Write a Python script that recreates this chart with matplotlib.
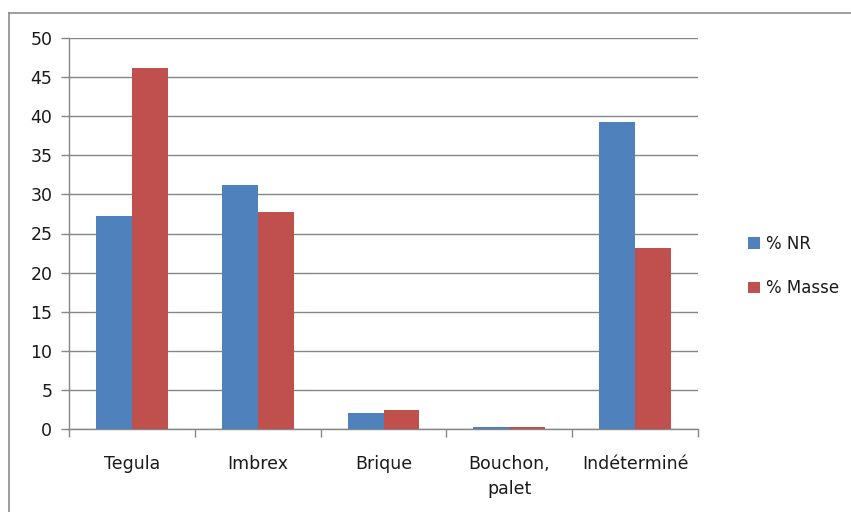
import numpy as np
import matplotlib.pyplot as plt
from matplotlib.lines import Line2D

categories = ["Tegula", "Imbrex", "Brique", "Bouchon,\npalet", "Indéterminé"]
pct_nr = [27.3, 31.2, 2.0, 0.3, 39.2]
pct_masse = [46.2, 27.8, 2.4, 0.3, 23.1]
series_names = ["% NR", "% Masse"]

blue = "#4F81BD"
red = "#C0504D"
grid_col = "#868686"

plt.rcParams['font.family'] = ['DejaVu Sans']

fig = plt.figure(figsize=(8.51, 5.12), dpi=100)
W, H = 851, 512
ax = fig.add_axes([69 / W, 1 - 429 / H, (698 - 69) / W, (429 - 38) / H])

x = np.arange(len(categories))
w = 1 / 3.5
ax.bar(x - w / 2, pct_nr, width=w, color=blue, label=series_names[0], zorder=3)
ax.bar(x + w / 2, pct_masse, width=w, color=red, label=series_names[1], zorder=3)

ax.set_xlim(-0.5, len(categories) - 0.5)
ax.set_ylim(0, 50)
ax.set_yticks(np.arange(0, 51, 5))
ax.yaxis.grid(True, color=grid_col, linewidth=1, zorder=0)
ax.set_axisbelow(True)

# category labels centred, tick marks between categories
ax.set_xticks(x)
ax.set_xticklabels(categories, fontsize=12.5, linespacing=1.45, va="top", color="#1a1a1a")
ax.tick_params(axis="x", length=0, pad=19)
ax.set_xticks(np.arange(-0.5, len(categories)), minor=True)
ax.tick_params(axis="x", which="minor", length=6, color=grid_col, width=1)
ax.tick_params(axis="y", length=6, color=grid_col, width=1, labelsize=12.5, pad=6,
               labelcolor="#1a1a1a")

for side in ["top", "right"]:
    ax.spines[side].set_visible(False)
for side in ["left", "bottom"]:
    ax.spines[side].set_color(grid_col)
    ax.spines[side].set_linewidth(1)

leg = fig.legend(loc="center left", bbox_to_anchor=(733 / W, 1 - 266 / H),
                 frameon=False, fontsize=12, handlelength=0.7, handleheight=0.7,
                 handletextpad=0.4, labelspacing=1.6)
for t in leg.get_texts():
    t.set_color("#1a1a1a")

# chart border, only left and top edges fall inside the image
bx, by = 8.5 / W, 1 - 12.5 / H
fig.lines.append(Line2D([bx, bx], [0, by], transform=fig.transFigure,
                        color="#8c8c8c", linewidth=1.2))
fig.lines.append(Line2D([bx, 1], [by, by], transform=fig.transFigure,
                        color="#8c8c8c", linewidth=1.2))

fig.savefig("out.png", dpi=100)
